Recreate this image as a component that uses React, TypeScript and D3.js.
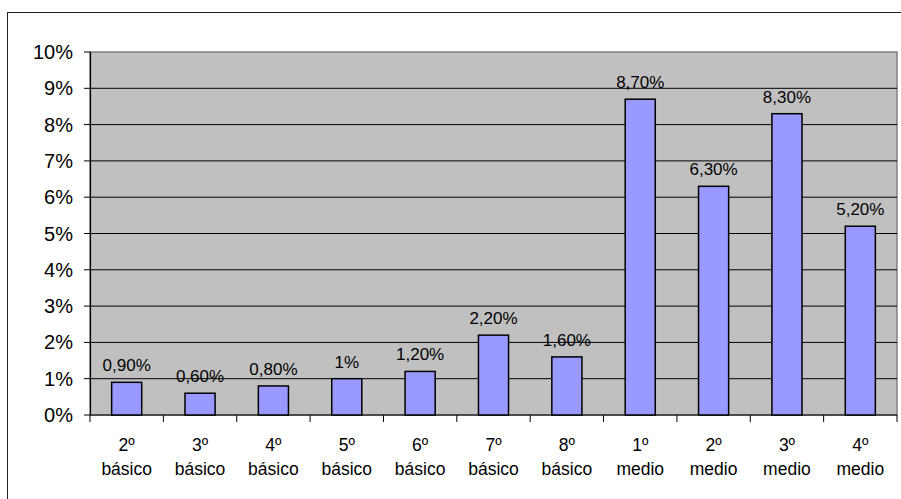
import React from "react"
import * as d3 from "d3"

const grades = ["2º", "3º", "4º", "5º", "6º", "7º", "8º", "1º", "2º", "3º", "4º"]
const levels = ["básico", "básico", "básico", "básico", "básico", "básico", "básico", "medio", "medio", "medio", "medio"]
const values = [0.9, 0.6, 0.8, 1, 1.2, 2.2, 1.6, 8.7, 6.3, 8.3, 5.2]
const valueLabels = ["0,90%", "0,60%", "0,80%", "1%", "1,20%", "2,20%", "1,60%", "8,70%", "6,30%", "8,30%", "5,20%"]
const yTicks = [0, 1, 2, 3, 4, 5, 6, 7, 8, 9, 10]

const App: React.FC = () => {
	const width = 901
	const height = 499
	const margin = { top: 52, right: 4, bottom: 84, left: 90 }
	const innerWidth = width - margin.left - margin.right
	const innerHeight = height - margin.top - margin.bottom

	const keys = values.map((_, i) => String(i))
	const x_scale = d3.scaleBand().domain(keys).range([0, innerWidth])
	const y_scale = d3.scaleLinear().domain([0, 10]).range([innerHeight, 0])
	const barW = x_scale.bandwidth() * 0.41
	const font = "Arial, 'Liberation Sans', sans-serif"

	return (
		<svg
			width={width}
			height={height}
			style={{ position: "absolute", left: 0, top: 0, background: "#fff" }}>
			<rect x={7.5} y={12.5} width={920} height={520} fill="#fff" stroke="#222" strokeWidth={1} />
			<g transform={`translate(${margin.left},${margin.top})`}>
				<rect x={0} y={0} width={innerWidth} height={innerHeight} fill="#c0c0c0" stroke="#808080" strokeWidth={1.5} />
				{yTicks.slice(1, -1).map((t) => (
					<line key={t} x1={0} x2={innerWidth} y1={y_scale(t)} y2={y_scale(t)} stroke="#000" strokeWidth={1} />
				))}
				{yTicks.map((t) => (
					<g key={"y" + t}>
						<line x1={-6} x2={0} y1={y_scale(t)} y2={y_scale(t)} stroke="#000" />
						<text x={-17} y={y_scale(t)} dy="0.35em" textAnchor="end" fontSize={20} fontFamily={font} fill="#000">
							{t}%
						</text>
					</g>
				))}
				<line x1={0.5} x2={0.5} y1={0} y2={innerHeight} stroke="#000" strokeWidth={1.2} />
				<line x1={0} x2={innerWidth} y1={innerHeight} y2={innerHeight} stroke="#000" strokeWidth={1.2} />
				{keys.map((k, i) => (
					<line key={"xt" + i} x1={x_scale(k)!} x2={x_scale(k)!} y1={innerHeight} y2={innerHeight + 7} stroke="#000" />
				))}
				<line x1={innerWidth} x2={innerWidth} y1={innerHeight} y2={innerHeight + 7} stroke="#000" />
				{values.map((v, i) => {
					const cx = x_scale(keys[i])! + x_scale.bandwidth() / 2
					return (
						<g key={"b" + i}>
							<rect
								x={cx - barW / 2}
								y={y_scale(v)}
								width={barW}
								height={innerHeight - y_scale(v)}
								fill="#9999ff"
								stroke="#000"
								strokeWidth={1.5}
							/>
							<text x={cx} y={y_scale(v) - 11} textAnchor="middle" fontSize={17} fontFamily={font} fill="#000">
								{valueLabels[i]}
							</text>
							<text x={cx} y={innerHeight + 36} textAnchor="middle" fontSize={17.5} fontFamily={font} fill="#000">
								{grades[i]}
							</text>
							<text x={cx} y={innerHeight + 60} textAnchor="middle" fontSize={17.5} fontFamily={font} fill="#000">
								{levels[i]}
							</text>
						</g>
					)
				})}
			</g>
		</svg>
	)
}

export default App
